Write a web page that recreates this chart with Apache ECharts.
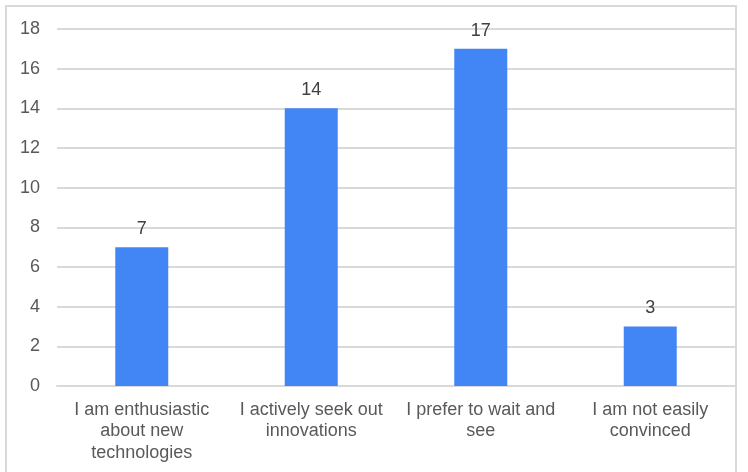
<!DOCTYPE html>
<html>
<head>
<meta charset="utf-8">
<script src="https://cdn.jsdelivr.net/npm/echarts@6/dist/echarts.min.js"></script>
<style>
  html, body { margin: 0; padding: 0; background: #fff; }
  #frame {
    position: absolute; left: 5px; top: 5px; width: 732px; height: 470px;
    border: 2px solid #d9d9d9; border-bottom: none; box-sizing: border-box;
  }
  #chart { position: absolute; left: 0; top: 0; width: 748px; height: 472px; }
</style>
</head>
<body>
<div id="frame"></div>
<div id="chart"></div>
<script>
// Survey answers and how many respondents picked each
const categories = [
  'I am enthusiastic\nabout new\ntechnologies',
  'I actively seek out\ninnovations',
  'I prefer to wait and\nsee',
  'I am not easily\nconvinced'
];
const counts = [7, 14, 17, 3];
const yTicks = { min: 0, max: 18, interval: 2 };

const FONT = 'Arial, Liberation Sans, sans-serif';

const chart = echarts.init(document.getElementById('chart'));
chart.setOption({
  animation: false,
  grid: { left: 57, right: 13, top: 29, bottom: 86 },
  xAxis: {
    type: 'category',
    data: categories,
    axisLine: { lineStyle: { color: '#d9d9d9', width: 2 } },
    axisTick: { show: false },
    axisLabel: {
      color: '#595959', fontSize: 18, fontFamily: FONT,
      lineHeight: 21.5, margin: 13, interval: 0
    }
  },
  yAxis: {
    type: 'value',
    min: yTicks.min, max: yTicks.max, interval: yTicks.interval,
    axisLine: { show: false },
    axisTick: { show: false },
    splitLine: { lineStyle: { color: '#d9d9d9', width: 2 } },
    axisLabel: {
      color: '#595959', fontSize: 18, fontFamily: FONT,
      margin: 17
    }
  },
  series: [{
    type: 'bar',
    data: counts,
    barWidth: 53,
    itemStyle: { color: '#4285f4' },
    label: {
      show: true, position: 'top', distance: 9,
      color: '#404040', fontSize: 18, fontFamily: FONT
    }
  }]
});
</script>
</body>
</html>
